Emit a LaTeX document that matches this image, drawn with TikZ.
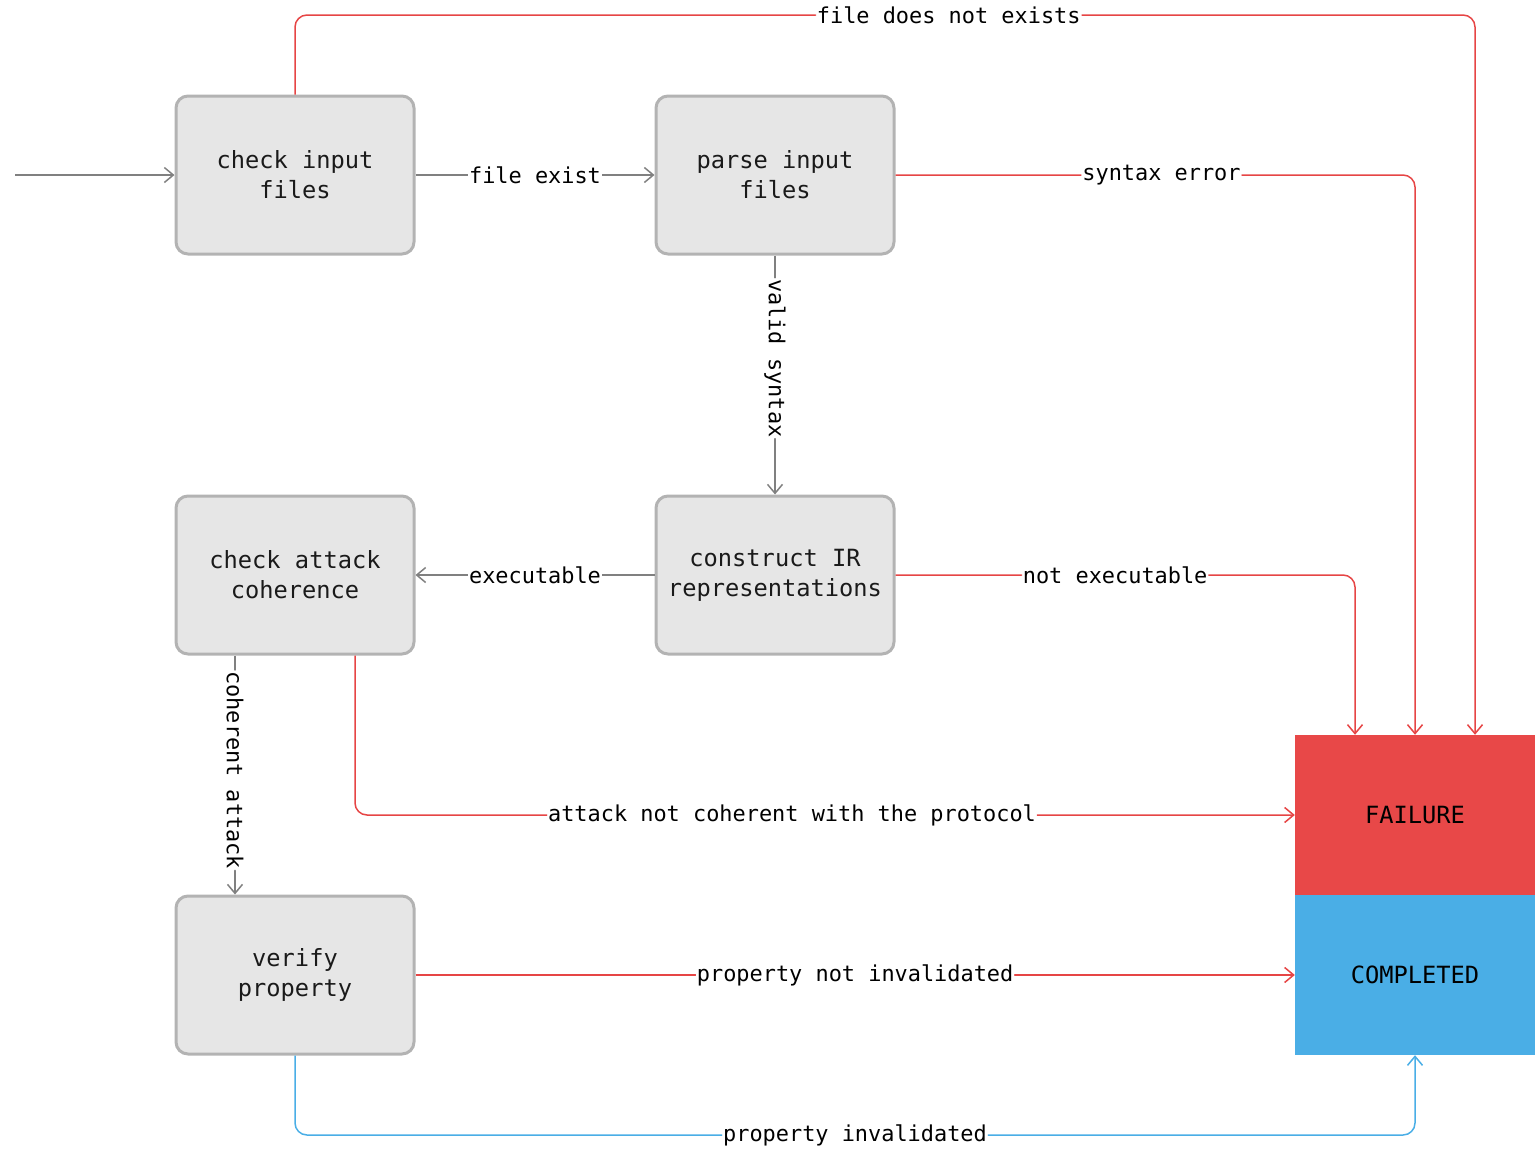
\documentclass[tikz,border=0pt]{standalone}
\usepackage{fontspec}
\setmonofont{DejaVu Sans Mono}
\usetikzlibrary{arrows.meta,calc}
\definecolor{boxfill}{HTML}{E6E6E6}
\definecolor{boxline}{HTML}{B3B3B3}
\definecolor{redc}{HTML}{E64545}
\definecolor{greyc}{HTML}{808080}
\definecolor{bluec}{HTML}{4AAEE6}
\definecolor{failc}{HTML}{E84848}
\definecolor{txt}{HTML}{1A1A1A}
\begin{document}
\begin{tikzpicture}[x=1pt,y=-1pt,
  stbox/.style={draw=boxline, fill=boxfill, line width=3pt, rounded corners=12pt,
    minimum width=238pt, minimum height=158pt, align=center, text=txt,
    font=\fontsize{23.7}{30}\selectfont\ttfamily},
  endbox/.style={minimum width=240pt, minimum height=160pt, inner sep=0pt, text=black,
    font=\fontsize{23.7}{30}\selectfont\ttfamily},
  lab/.style={fill=white, inner sep=1pt, text=black,
    font=\fontsize{21.9}{26}\selectfont\ttfamily},
  conn/.style={line width=1.5pt, rounded corners=12pt,
    -{Straight Barb[length=9pt,width=15pt,line width=1.5pt]}},
  gconn/.style={conn, draw=greyc},
  rconn/.style={conn, draw=redc},
  bconn/.style={conn, draw=bluec}]
\useasboundingbox (0,0) rectangle (1536,1154);

\node[stbox] (cif) at (295,175) {check input\\files};
\node[stbox] (pif) at (775,175) {parse input\\files};
\node[stbox] (cir) at (775,575) {construct IR\\representations};
\node[stbox] (cac) at (295,575) {check attack\\coherence};
\node[stbox] (vp) at (295,975) {verify\\property};
\node[endbox, fill=failc] (fail) at (1415,815) {FAILURE};
\node[endbox, fill=bluec] (done) at (1415,975) {COMPLETED};

\coordinate (start) at (15,175);
\draw[gconn] (start) -- (cif.west);
\draw[gconn] (cif.east) -- node[lab]{file exist} (pif.west);
\draw[rconn] (cif.north) -- (cif.north |- 0,15)
  -- node[lab,pos=0.554]{file does not exists} (1475,15) -- ($(fail.north)+(60,0)$);
\draw[rconn] (pif.east) -- node[lab,pos=0.512]{syntax error} (1415,175) -- (fail.north);
\draw[gconn] (pif.south) -- node[lab,rotate=-90,pos=0.43]{valid syntax} (cir.north);
\draw[gconn] (cir.west) -- node[lab]{executable} (cac.east);
\draw[rconn] (cir.east) -- node[lab,pos=0.478]{not executable} (1355,575) -- ($(fail.north)+(-60,0)$);
\draw[gconn] ($(cac.south)+(-60,0)$) -- node[lab,rotate=-90,pos=0.48]{coherent attack} ($(vp.north)+(-60,0)$);
\draw[rconn] ($(cac.south)+(60,0)$) -- (355,815)
  -- node[lab,pos=0.465]{attack not coherent with the protocol} (fail.west);
\draw[rconn] (vp.east) -- node[lab]{property not invalidated} (done.west);
\draw[bconn] (vp.south) -- (295,1135) -- node[lab]{property invalidated} (1415,1135) -- (done.south);
\end{tikzpicture}
\end{document}
